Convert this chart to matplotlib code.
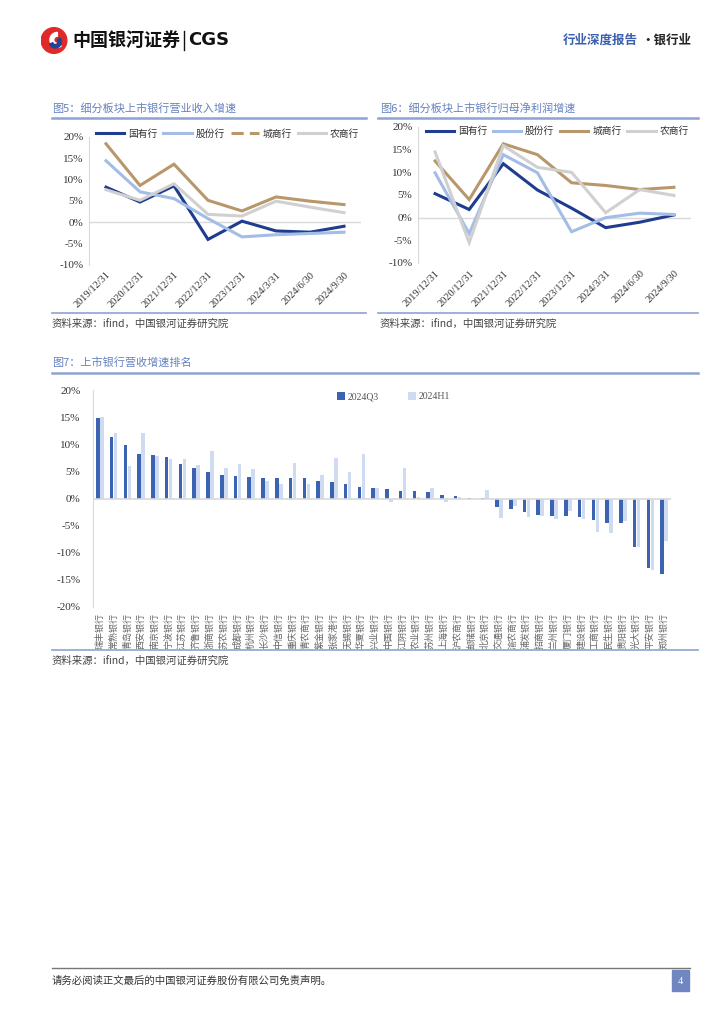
import matplotlib.pyplot as plt
from matplotlib.lines import Line2D
from matplotlib.patches import Rectangle, Wedge, Circle
import numpy as np

plt.rcParams['font.family'] = ['Noto Sans CJK SC', 'DejaVu Sans']

W, H = 724, 1024

# ---- data ----
dates = ["2019/12/31", "2020/12/31", "2021/12/31", "2022/12/31",
         "2023/12/31", "2024/3/31", "2024/6/30", "2024/9/30"]
segments = ["国有行", "股份行", "城商行", "农商行"]

# fig 5: revenue growth (%)
rev_state = [8.2, 4.7, 8.5, -4.1, 0.2, -2.1, -2.4, -1.0]
rev_joint = [14.4, 7.1, 5.5, 0.8, -3.5, -3.0, -2.7, -2.4]
rev_city = [18.4, 8.6, 13.6, 5.1, 2.6, 5.9, 4.9, 4.1]
rev_rural = [7.6, 5.1, 9.0, 1.8, 1.4, 4.9, 3.5, 2.2]

# fig 6: net profit growth (%)
np_state = [5.3, 1.8, 11.9, 6.1, 2.1, -2.2, -1.0, 0.6]
np_joint = [9.9, -3.5, 13.9, 9.9, -3.1, 0.0, 1.0, 0.7]
np_city = [12.5, 4.0, 16.3, 13.9, 7.7, 7.1, 6.2, 6.7]
np_rural = [14.5, -5.5, 15.9, 11.1, 10.0, 1.1, 6.2, 4.9]

# fig 7: listed bank revenue growth ranking (%)
banks = ["瑞丰银行", "常熟银行", "青岛银行", "西安银行", "南京银行", "宁波银行",
         "江苏银行", "齐鲁银行", "浙商银行", "苏农银行", "成都银行", "杭州银行",
         "长沙银行", "中信银行", "重庆银行", "青农商行", "紫金银行", "张家港行",
         "无锡银行", "华夏银行", "兴业银行", "中国银行", "江阴银行", "农业银行",
         "苏州银行", "上海银行", "沪农商行", "邮储银行", "北京银行", "交通银行",
         "渝农商行", "浦发银行", "招商银行", "兰州银行", "厦门银行", "建设银行",
         "工商银行", "民生银行", "贵阳银行", "光大银行", "平安银行", "郑州银行"]
q3_2024 = [14.8, 11.4, 9.8, 8.2, 8.1, 7.6, 6.3, 5.7, 4.9, 4.3, 4.1, 4.0,
           3.8, 3.8, 3.8, 3.8, 3.3, 3.0, 2.6, 2.2, 1.9, 1.7, 1.4, 1.4,
           1.2, 0.7, 0.4, 0.1, 0.05, -1.5, -2.0, -2.4, -3.1, -3.2, -3.3, -3.5,
           -3.9, -4.6, -4.6, -8.9, -12.9, -14.0]
h1_2024 = [15.0, 12.1, 5.9, 12.1, 7.9, 7.2, 7.2, 6.2, 8.7, 5.6, 6.4, 5.4,
           3.3, 2.7, 6.6, 2.7, 4.3, 7.4, 4.8, 8.2, 1.9, -0.7, 5.6, 0.3,
           2.0, -0.6, 0.2, -0.1, 1.6, -3.6, -1.4, -3.4, -3.3, -3.7, -2.3, -3.7,
           -6.2, -6.4, -4.2, -8.9, -13.2, -7.8]

C_STATE = "#1f3c8f"
C_JOINT = "#a3bde6"
C_CITY = "#b8976a"
C_RURAL = "#d0d0d0"
TITLE_C = "#6481bf"
RULE_C = "#8da3d3"
NUM_FONT = ["Liberation Serif", "Noto Sans CJK SC"]

fig = plt.figure(figsize=(W / 100, H / 100), dpi=100)


def ax_px(l, t, r, b):
    return fig.add_axes([l / W, 1 - b / H, (r - l) / W, (b - t) / H])


def ftext(x, y, s, **kw):
    fig.text(x / W, 1 - y / H, s, **kw)


def hline(x1, x2, y, color, lw):
    fig.add_artist(Line2D([x1 / W, x2 / W], [1 - y / H, 1 - y / H],
                          color=color, lw=lw, transform=fig.transFigure))


# ---- header ----
logo = ax_px(40, 27, 68, 54)
logo.set_xlim(-1, 1)
logo.set_ylim(-1, 1)
logo.set_aspect("equal")
logo.axis("off")
logo.add_patch(Circle((0, 0), 0.95, color="#e02a2a"))
logo.add_patch(Wedge((0.25, 0.05), 0.55, 90, 300, width=0.28, color="white"))
logo.add_patch(Wedge((0.1, -0.1), 0.45, 200, 40, width=0.25, color="#1c4596"))
ftext(72, 40, "中国银河证券", fontsize=13, weight="bold", va="center", color="#111")
fig.add_artist(Line2D([184 / W, 184 / W], [1 - 31 / H, 1 - 50 / H], color="#111",
                      lw=1, transform=fig.transFigure))
ftext(188, 40, "CGS", fontsize=13, weight="bold", va="center", color="#111",
      family=["DejaVu Sans"])
ftext(563, 40, "行业深度报告", fontsize=9, weight="bold", va="center", color="#3a5fae")
ftext(641, 40, "·银行业", fontsize=9, weight="bold", va="center", color="#222")


# ---- line charts ----
def line_chart(box, title, tx, rule, src_y, series, dashed_city, leg_y):
    ftext(tx, 108, title, fontsize=8, color=TITLE_C, va="center")
    hline(rule[0], rule[1], 118, RULE_C, 1.8)
    ax = ax_px(*box)
    x = np.arange(len(dates))
    for vals, c in zip(series, [C_STATE, C_JOINT, C_CITY, C_RURAL]):
        ax.plot(x, vals, color=c, lw=2.2, solid_joinstyle="miter")
    ax.axhline(0, color="#d9d9d9", lw=1, zorder=0)
    ax.set_xlim(-0.5, 7.5)
    ax.set_ylim(-10, 20)
    ax.set_yticks(range(-10, 21, 5))
    ax.set_yticklabels([f"{v}%" for v in range(-10, 21, 5)], family=NUM_FONT,
                       fontsize=8, color="#333")
    ax.set_xticks(x)
    ax.set_xticklabels(dates, rotation=45, ha="right", rotation_mode="anchor",
                       family=NUM_FONT, fontsize=7.5, color="#333")
    ax.tick_params(length=0, pad=4)
    for s in ["top", "right", "bottom"]:
        ax.spines[s].set_visible(False)
    ax.spines["left"].set_color("#d9d9d9")
    handles = [
        Line2D([], [], color=C_STATE, lw=2.2),
        Line2D([], [], color=C_JOINT, lw=2.2),
        Line2D([], [], color=C_CITY, lw=2.2, ls=(0, (4, 2)) if dashed_city else "-"),
        Line2D([], [], color=C_RURAL, lw=2.2),
    ]
    ax.legend(handles, segments, loc="upper center", bbox_to_anchor=(0.51, leg_y),
              ncol=4, frameon=False, fontsize=7, handlelength=2.9,
              columnspacing=0.6, handletextpad=0.4, labelcolor="#333",
              borderaxespad=0.2)
    hline(rule[0], rule[1], src_y, RULE_C, 1.2)
    ftext(tx, src_y + 11, "资料来源：ifind，中国银河证券研究院", fontsize=7.5,
          color="#444", va="center")
    return ax


line_chart((89, 137, 361, 264.5), "图5：细分板块上市银行营业收入增速", 52, (52, 366),
           313, [rev_state, rev_joint, rev_city, rev_rural], True, 1.11)
line_chart((418, 127, 691, 263), "图6：细分板块上市银行归母净利润增速", 380, (378, 698),
           313, [np_state, np_joint, np_city, np_rural], False, 1.05)

# ---- bar chart ----
ftext(52, 362, "图7：上市银行营收增速排名", fontsize=8, color=TITLE_C, va="center")
hline(52, 698, 373, RULE_C, 1.8)
ax = ax_px(93, 390, 671, 607)
x = np.arange(len(banks))
ax.bar(x - 0.145, q3_2024, width=0.26, color="#3b63b1", label="2024Q3", zorder=2)
ax.bar(x + 0.145, h1_2024, width=0.26, color="#cfdbf0", label="2024H1", zorder=1)
ax.axhline(0, color="#d9d9d9", lw=1.2, zorder=3)
ax.set_xlim(-0.5, len(banks) - 0.5)
ax.set_ylim(-20, 20)
ax.set_yticks(range(-20, 21, 5))
ax.set_yticklabels([f"{v}%" for v in range(-20, 21, 5)], family=NUM_FONT,
                   fontsize=8, color="#333")
ax.set_xticks(x)
ax.set_xticklabels(banks, rotation=90, fontsize=6.5, color="#666", va="top")
ax.tick_params(length=0, pad=4)
ax.tick_params(axis="y", pad=9)
for s in ["top", "right", "bottom"]:
    ax.spines[s].set_visible(False)
ax.spines["left"].set_color("#d9d9d9")
ax.legend(loc="upper center", bbox_to_anchor=(0.52, 1.03), ncol=2, frameon=False,
          handlelength=0.8, handleheight=0.8, columnspacing=3.0,
          handletextpad=0.3, labelcolor="#555", prop={"family": NUM_FONT, "size": 7})
hline(52, 698, 650, RULE_C, 1.2)
ftext(52, 661, "资料来源：ifind，中国银河证券研究院", fontsize=7.5, color="#444", va="center")

# ---- footer ----
hline(52, 690, 968, "#777", 1)
ftext(52, 981, "请务必阅读正文最后的中国银河证券股份有限公司免责声明。", fontsize=7.5,
      color="#333", va="center")
fig.add_artist(Rectangle((672 / W, 1 - 991 / H), 17 / W, 21 / H, color="#6f86c0",
                         transform=fig.transFigure))
ftext(680.5, 981, "4", fontsize=7.5, color="white", ha="center", va="center",
      family=NUM_FONT)

fig.savefig("out.png", dpi=100, facecolor="white")
